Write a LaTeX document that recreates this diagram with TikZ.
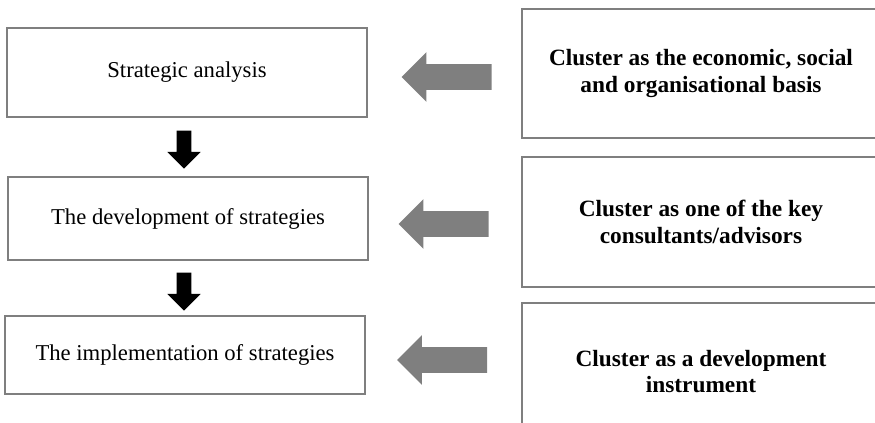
\documentclass[tikz,border=0pt]{standalone}
\usepackage{fontspec}
\setmainfont{Liberation Serif}
\usepackage{xcolor}
\usetikzlibrary{shapes.arrows}
\definecolor{boxgray}{HTML}{7F7F7F}

\begin{document}
\begin{tikzpicture}[x=0.75pt,y=-0.75pt]
        \tikzset{stage/.append style={rectangle,
                    draw=boxgray, fill=white, line width=1.9pt,
                    minimum width=270pt,
                    align=center, font=\fontsize{17}{20}\selectfont},
                 role/.append style={stage, minimum width=268.5pt,
                    font=\fontsize{17.5}{20}\selectfont\bfseries},
                 pointer/.append style={single arrow, fill=boxgray,
                    inner xsep=0pt, inner ysep=9.375pt, minimum height=67.5pt,
                    single arrow head extend=9pt, rotate=180},
                 step arrow/.append style={single arrow, fill=black,
                    inner xsep=0pt, inner ysep=5.25pt, minimum height=28.5pt,
                    single arrow head extend=7.1pt, rotate=-90}}
        \useasboundingbox (0,0) rectangle (875,422);
        % stages of the strategy
        \node[stage, minimum height=66.75pt] (analysis) at (187,72.5) {Strategic analysis};
        \node[stage, minimum height=62.25pt] (development) at (188,218.5) {The development of strategies};
        \node[stage, minimum height=58.5pt] (implementation) at (185,355) {The implementation of strategies};
        % roles of the cluster
        \node[role, minimum height=96.75pt] (basis) at (701,73.5) {Cluster as the economic, social\\and organisational basis};
        \node[role, minimum height=97.5pt] (advisor) at (701,222) {Cluster as one of the key\\consultants/advisors};
        \node[role, minimum height=102.75pt] (instrument) at (701,371.5) {Cluster as a development\\instrument};
        % arrows
        \node[step arrow] (down1) at (184,146) {};
        \node[step arrow] (down2) at (184,288) {};
        \node[pointer] (toanalysis) at (453,77) {};
        \node[pointer] (todevelopment) at (450,224) {};
        \node[pointer] (toimplementation) at (448.5,360) {};
    \end{tikzpicture}
\end{document}
